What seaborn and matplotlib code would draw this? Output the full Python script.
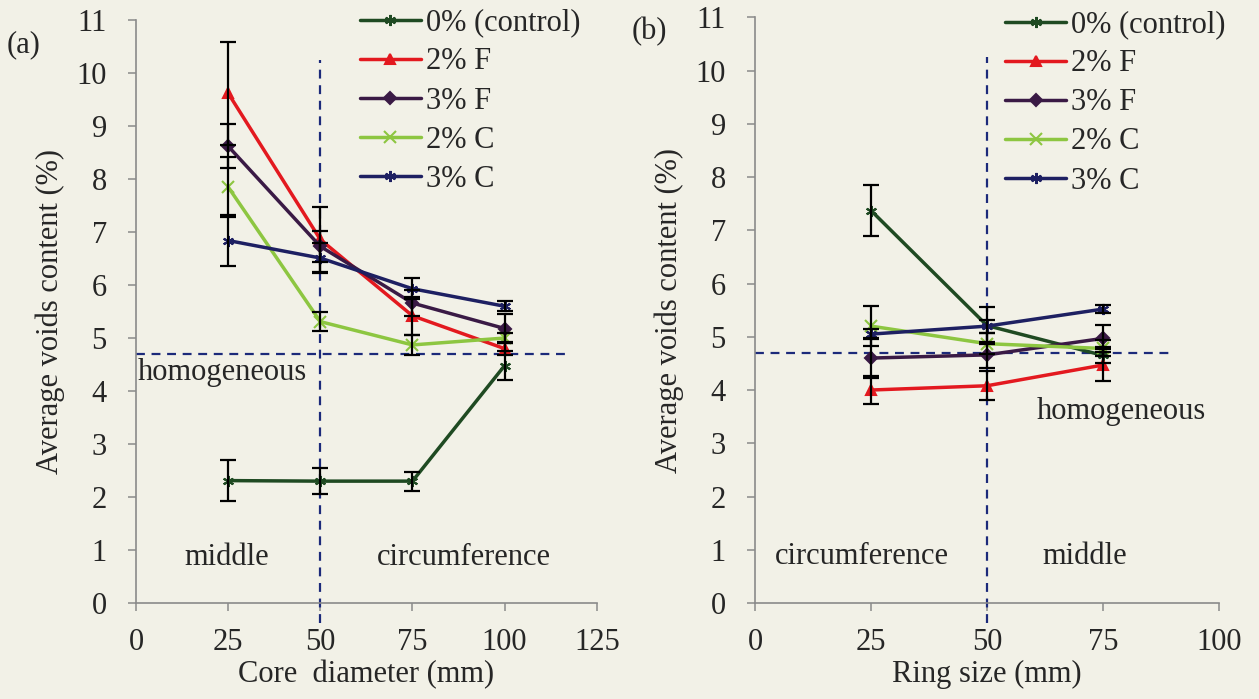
import numpy as np
import pandas as pd
import matplotlib
matplotlib.use("Agg")
import matplotlib.pyplot as plt
import seaborn as sns

# mixes, colours and markers (Excel-like)
series = ["0% (control)", "2% F", "3% F", "2% C", "3% C"]
colors = ["#1f4a22", "#e3191f", "#3a1a45", "#8dc641", "#1e2062"]
markers = [(6, 2, 0), "^", "D", "x", (6, 2, 0)]
msizes = [8, 7, 6, 8, 8]

# (a) core diameter
core_x = [25, 50, 75, 100]
core_control = [2.31, 2.30, 2.30, 4.48]
core_2f = [9.62, 6.86, 5.42, 4.80]
core_3f = [8.62, 6.73, 5.66, 5.18]
core_2c = [7.85, 5.31, 4.87, 5.00]
core_3c = [6.84, 6.51, 5.93, 5.60]
core_err_control = [0.38, 0.24, 0.18, 0.28]
core_err_2f = [0.97, 0.62, 0.36, 0.12]
core_err_3f = [0.42, 0.29, 0.25, 0.28]
core_err_2c = [0.56, 0.18, 0.19, 0.10]
core_err_3c = [0.49, 0.28, 0.20, 0.09]

# (b) ring size
ring_x = [25, 50, 75]
ring_control = [7.37, 5.21, 4.65]
ring_2f = [4.00, 4.08, 4.47]
ring_3f = [4.60, 4.66, 4.97]
ring_2c = [5.20, 4.87, 4.78]
ring_3c = [5.05, 5.20, 5.52]
ring_err_control = [0.48, 0.35, 0.15]
ring_err_2f = [0.27, 0.27, 0.30]
ring_err_3f = [0.37, 0.25, 0.25]
ring_err_2c = [0.37, 0.20, 0.15]
ring_err_3c = [0.10, 0.12, 0.08]

bg = "#f2f1e7"
guide = "#1c2a7a"
fs = 22

sns.set_style("ticks")
plt.rcParams["font.family"] = ["Liberation Serif", "DejaVu Serif"]
plt.rcParams["font.size"] = fs


def draw_panel(ax, x, means, errs, xmax, xlabel, hline_end, leg_anchor):
    df = pd.DataFrame({"x": np.tile(x, len(series)),
                       "v": np.concatenate(means),
                       "mix": np.repeat(series, len(x))})
    sns.lineplot(data=df, x="x", y="v", hue="mix", hue_order=series,
                 palette=colors, lw=2.5, legend=False, ax=ax, zorder=2)
    handles = list(ax.lines)[:len(series)]
    for ln, c, mk, ms in zip(handles, colors, markers, msizes):
        ln.set_marker(mk)
        ln.set_markersize(ms)
        ln.set_markeredgecolor(c)
        ln.set_markerfacecolor(c)
        ln.set_markeredgewidth(1.5)

    for m, e in zip(means, errs):
        ax.errorbar(x, m, yerr=e, fmt="none", ecolor="black",
                    elinewidth=1.6, capsize=6, capthick=1.6, zorder=3)

    # guide lines
    ax.plot([0, hline_end], [4.7, 4.7], ls=(0, (4, 3)), color=guide, lw=1.6, zorder=1)
    ax.plot([50, 50], [-0.38, 10.25], ls=(0, (4, 3)), color=guide, lw=1.6,
            zorder=1, clip_on=False)

    ax.set_xlim(0, xmax)
    ax.set_ylim(0, 11)
    ax.set_xticks(range(0, xmax + 1, 25))
    ax.set_yticks(range(0, 12))
    ax.set_facecolor(bg)
    for s in ["top", "right"]:
        ax.spines[s].set_visible(False)
    for s in ["left", "bottom"]:
        ax.spines[s].set_color("#8a8a8a")
        ax.spines[s].set_linewidth(1.2)
    ax.tick_params(direction="out", length=6, width=1.1, color="#8a8a8a",
                   labelsize=fs)
    ax.tick_params(axis="x", pad=12)
    ax.tick_params(axis="y", pad=15)
    ax.set_xlabel(xlabel, fontsize=fs, labelpad=2)
    ax.set_ylabel("Average voids content (%)", fontsize=fs, labelpad=8)

    ax.legend(handles, series, loc="upper left", bbox_to_anchor=leg_anchor,
              frameon=False, fontsize=fs, handlelength=2.0, handletextpad=0.15,
              labelspacing=0.33, borderaxespad=0, borderpad=0)


fig = plt.figure(figsize=(12.59, 6.99), dpi=100, facecolor=bg)
ax1 = fig.add_axes([0.108, 0.1373, 0.366, 0.834])
ax2 = fig.add_axes([0.5997, 0.1373, 0.3686, 0.838])

draw_panel(ax1, core_x,
           [core_control, core_2f, core_3f, core_2c, core_3c],
           [core_err_control, core_err_2f, core_err_3f, core_err_2c, core_err_3c],
           125, "Core  diameter (mm)", 117, (0.486, 1.02))
draw_panel(ax2, ring_x,
           [ring_control, ring_2f, ring_3f, ring_2c, ring_3c],
           [ring_err_control, ring_err_2f, ring_err_3f, ring_err_2c, ring_err_3c],
           100, "Ring size (mm)", 89.5, (0.539, 1.012))

# region annotations
ax1.text(23.5, 4.35, "homogeneous", ha="center", va="center", fontsize=fs)
ax1.text(24.7, 0.85, "middle", ha="center", va="center", fontsize=fs)
ax1.text(89, 0.85, "circumference", ha="center", va="center", fontsize=fs)
ax2.text(79, 3.6, "homogeneous", ha="center", va="center", fontsize=fs)
ax2.text(23, 0.87, "circumference", ha="center", va="center", fontsize=fs)
ax2.text(71, 0.87, "middle", ha="center", va="center", fontsize=fs)

fig.text(0.005, 1 - 45 / 699, "(a)", fontsize=fs, va="center")
fig.text(0.502, 1 - 32 / 699, "(b)", fontsize=fs, va="center")

fig.savefig("out.png", dpi=100, facecolor=bg)
